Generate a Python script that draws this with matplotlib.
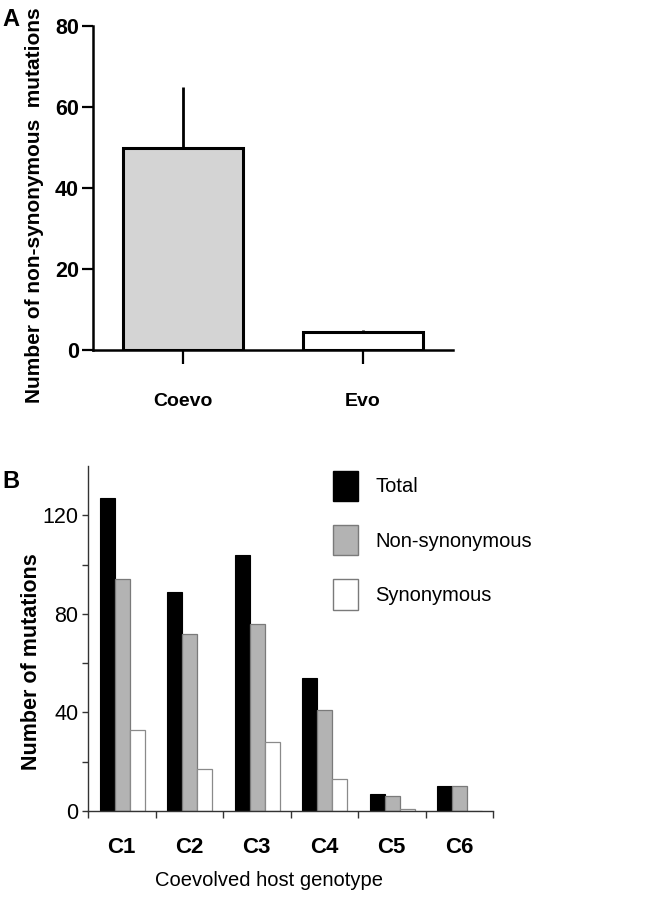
import matplotlib
matplotlib.use("Agg")
import matplotlib.pyplot as plt
import numpy as np
from matplotlib.patches import Patch

# ---- data ----
a_categories = ["Coevo", "Evo"]
a_values = [50, 4.5]
a_errors = [15, 0.5]
a_yticks = [0, 20, 40, 60, 80]

b_categories = ["C1", "C2", "C3", "C4", "C5", "C6"]
b_total = [127, 89, 104, 54, 7, 10]
b_nonsyn = [94, 72, 76, 41, 6, 10]
b_syn = [33, 17, 28, 13, 1, 0]
b_series = ["Total", "Non-synonymous", "Synonymous"]
b_yticks_major = [0, 40, 80, 120]
b_yticks_minor = [20, 60, 100]

FAM = ["Liberation Sans", "DejaVu Sans"]

fig = plt.figure(figsize=(6.69, 9.0), dpi=100)

# ---------------- Panel A ----------------
axA = fig.add_axes([93/669, 1-350/900, (453-93)/669, (350-26)/900])
xa = np.arange(len(a_categories))
axA.bar(xa, a_values, width=0.667, color=["#d4d4d4", "white"],
        edgecolor="black", linewidth=2.2, zorder=2)
for xi, v, e in zip(xa, a_values, a_errors):
    axA.plot([xi, xi], [v, v + e], color="black", lw=2.0, zorder=1,
             solid_capstyle="butt")
axA.set_xlim(-0.5, 1.5)
axA.set_ylim(0, 80)
axA.set_yticks(a_yticks)
axA.set_xticks(xa)
axA.set_xticklabels(a_categories)
for s in ["top", "right"]:
    axA.spines[s].set_visible(False)
for s in ["left", "bottom"]:
    axA.spines[s].set_linewidth(1.8)
axA.tick_params(axis="y", direction="out", length=8, width=1.6, pad=2)
axA.tick_params(axis="x", direction="out", length=10, width=1.6, pad=21)
for t in axA.get_yticklabels():
    t.set_fontfamily(FAM); t.set_fontsize(15.5); t.set_fontweight("bold")
for t in axA.get_xticklabels():
    t.set_fontfamily(FAM); t.set_fontsize(14); t.set_fontweight("bold")
fig.text(35/669, 1-205/900, "Number of non-synonymous  mutations", rotation=90,
         ha="center", va="center", fontsize=15, fontweight="bold",
         family=FAM)
fig.text(2/669, 1-20/900, "A", ha="left", va="center", fontsize=17,
         fontweight="bold", family=FAM)

# ---------------- Panel B ----------------
axB = fig.add_axes([88/669, 1-811/900, (493-88)/669, (811-466)/900])
xb = np.arange(len(b_categories))
w = 0.222
axB.bar(xb + 0.505 - w, b_total, width=w, color="black", edgecolor="black",
        linewidth=0.8, label=b_series[0])
axB.bar(xb + 0.505, b_nonsyn, width=w, color="#b3b3b3", edgecolor="#7a7a7a",
        linewidth=0.9, label=b_series[1])
axB.bar(xb + 0.505 + w, b_syn, width=w, color="white", edgecolor="#8a8a8a",
        linewidth=0.9, label=b_series[2])
axB.set_xlim(0, len(b_categories))
axB.set_ylim(0, 140)
axB.set_yticks(b_yticks_major)
axB.set_yticks(b_yticks_minor, minor=True)
axB.set_xticks(np.arange(len(b_categories) + 1))
axB.set_xticklabels([])
axB.set_xticks(xb + 0.5, minor=True)
axB.set_xticklabels(b_categories, minor=True)
for s in ["top", "right"]:
    axB.spines[s].set_visible(False)
for s in ["left", "bottom"]:
    axB.spines[s].set_linewidth(1.0)
    axB.spines[s].set_color("#333333")
axB.tick_params(axis="y", which="both", direction="out", length=4, width=1.0,
                color="#333333", pad=3)
axB.tick_params(axis="x", which="major", direction="out", length=5, width=1.0,
                color="#333333")
axB.tick_params(axis="x", which="minor", length=0, pad=19)
for t in axB.get_yticklabels():
    t.set_fontfamily(FAM); t.set_fontsize(15.5)
for t in axB.get_xticklabels(minor=True):
    t.set_fontfamily(FAM); t.set_fontsize(16); t.set_fontweight("bold")

fig.text(32/669, 1-662/900, "Number of mutations", rotation=90,
         ha="center", va="center", fontsize=15.5, fontweight="bold", family=FAM)
fig.text(269/669, 1-881/900, "Coevolved host genotype", ha="center",
         va="center", fontsize=14.5, family=FAM)
fig.text(2/669, 1-482/900, "B", ha="left", va="center", fontsize=17,
         fontweight="bold", family=FAM)

handles = [Patch(facecolor="black", edgecolor="black", linewidth=1.0),
           Patch(facecolor="#b3b3b3", edgecolor="#7a7a7a", linewidth=1.0),
           Patch(facecolor="white", edgecolor="#7a7a7a", linewidth=1.0)]
leg = fig.legend(handles, b_series, loc="upper left",
                 bbox_to_anchor=(333/669, 1-471/900), frameon=False,
                 borderpad=0, borderaxespad=0, handlelength=1.25,
                 handleheight=1.92, handletextpad=0.85, labelspacing=1.2,
                 prop={"family": FAM, "size": 14.5})

fig.savefig("out.png", dpi=100)
